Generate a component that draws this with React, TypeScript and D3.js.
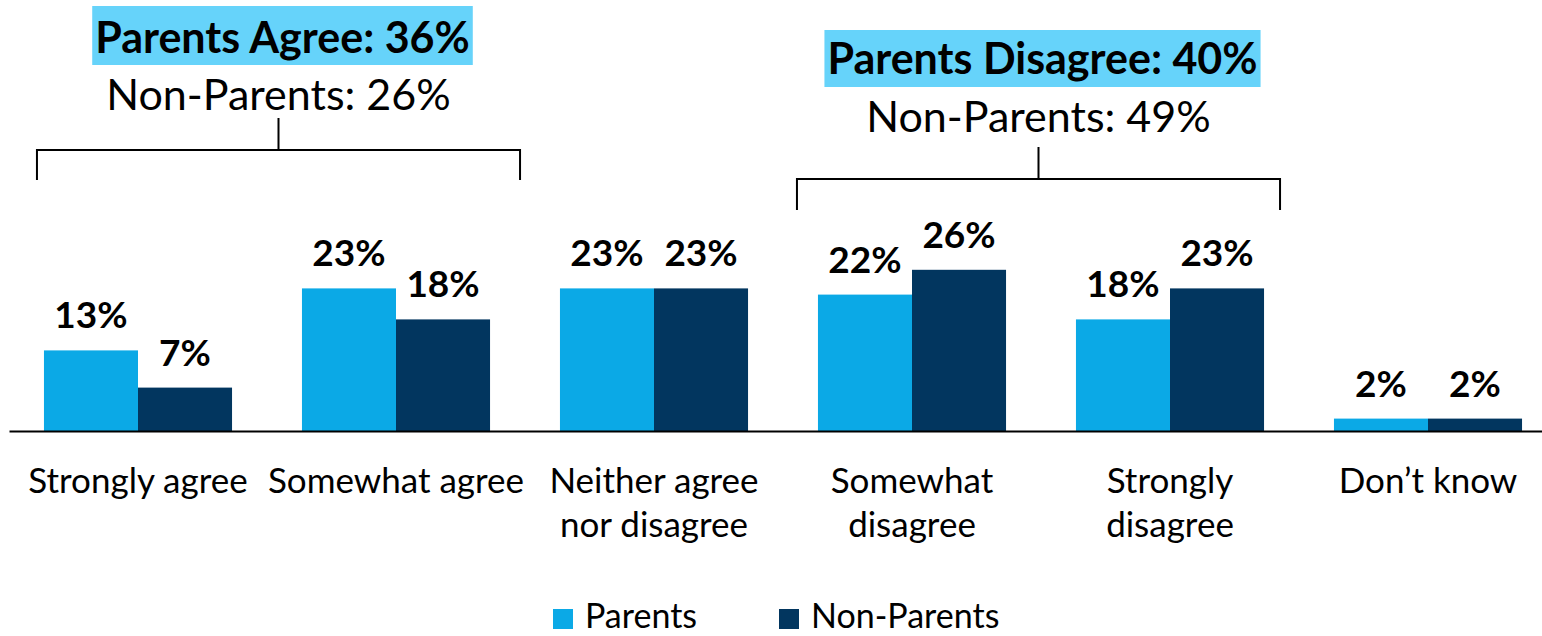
import { useRef, useEffect } from 'react'
import * as d3 from 'd3'

const categories = ['Strongly agree', 'Somewhat agree', 'Neither agree nor disagree', 'Somewhat disagree', 'Strongly disagree', 'Don’t know']
const categoryLines = [['Strongly agree'], ['Somewhat agree'], ['Neither agree', 'nor disagree'], ['Somewhat', 'disagree'], ['Strongly', 'disagree'], ['Don’t know']]
const seriesNames = ['Parents', 'Non-Parents']
const parents = [13, 23, 23, 22, 18, 2]
const nonParents = [7, 18, 23, 26, 23, 2]

const groupTitles = ['Parents Agree: 36%', 'Parents Disagree: 40%']
const groupSubtitles = ['Non-Parents: 26%', 'Non-Parents: 49%']
const groupSpans = [[0, 1], [3, 4]]

const W = 1542
const H = 636
const FONT = 'Lato, "Open Sans", sans-serif'
const colors = ['#0ba9e6', '#02365f']

export default function App() {
  const svgRef = useRef<SVGSVGElement>(null)

  useEffect(() => {
    if (!svgRef.current) return
    const svg = d3.select(svgRef.current)
    svg.selectAll('*').remove()

    const baseline = 431
    const x0 = d3.scaleBand<string>().domain(categories).range([9, 1557]).paddingInner(0.271).paddingOuter(0.1355)
    const x1 = d3.scaleBand<string>().domain(seriesNames).range([0, x0.bandwidth()])
    const y = d3.scaleLinear().domain([0, 40]).range([baseline, baseline - 248])

    const rows = categories.map((c, i) => ({ cat: c, vals: [parents[i], nonParents[i]] }))

    const groups = svg.selectAll('g.grp').data(rows).join('g')
      .attr('class', 'grp')
      .attr('transform', (d) => `translate(${x0(d.cat)},0)`)

    groups.selectAll('rect')
      .data((d) => d.vals.map((v, i) => ({ v, s: seriesNames[i], i })))
      .join('rect')
      .attr('x', (d) => x1(d.s) ?? 0)
      .attr('y', (d) => y(d.v))
      .attr('width', x1.bandwidth())
      .attr('height', (d) => baseline - y(d.v))
      .attr('fill', (d) => colors[d.i])

    groups.selectAll('text.val')
      .data((d) => d.vals.map((v, i) => ({ v, s: seriesNames[i] })))
      .join('text')
      .attr('class', 'val')
      .attr('x', (d) => (x1(d.s) ?? 0) + x1.bandwidth() / 2)
      .attr('y', (d) => y(d.v) - 22)
      .attr('text-anchor', 'middle')
      .attr('font-family', FONT)
      .attr('font-weight', 700)
      .attr('font-size', 37)
      .attr('fill', '#000')
      .text((d) => `${d.v}%`)

    // axis line
    const axis = svg.append('g')
      .attr('transform', `translate(0,${baseline})`)
      .call(d3.axisBottom(x0).tickSize(0).tickFormat(() => ''))
    axis.select('.domain').attr('stroke', '#000').attr('stroke-width', 2)

    // category labels
    categories.forEach((c, i) => {
      const cx = (x0(c) ?? 0) + x0.bandwidth() / 2
      const t = svg.append('text')
        .attr('text-anchor', 'middle')
        .attr('font-family', FONT)
        .attr('font-size', 35)
        .attr('fill', '#000')
      categoryLines[i].forEach((line, j) => {
        t.append('tspan').attr('x', cx).attr('y', 493 + j * 44).text(line)
      })
    })

    // brackets with group summaries
    const bracketOffsets = [
      { left: -7, right: 30, y: 150, drop: 30, tick: 32, titleY: 53, boxTop: 6, boxH: 59, subY: 110 },
      { left: -21, right: 16, y: 179, drop: 31, tick: 32, titleY: 74, boxTop: 30, boxH: 57, subY: 132 },
    ]
    groupSpans.forEach(([a, b], k) => {
      const o = bracketOffsets[k]
      const xl = (x0(categories[a]) ?? 0) + o.left
      const xr = (x0(categories[b]) ?? 0) + x0.bandwidth() + o.right
      const cx = (xl + xr) / 2
      svg.append('path')
        .attr('d', `M${xl},${o.y + o.drop}V${o.y}H${xr}V${o.y + o.drop}M${cx},${o.y}V${o.y - o.tick}`)
        .attr('fill', 'none')
        .attr('stroke', '#000')
        .attr('stroke-width', 2)

      const title = svg.append('text')
        .attr('x', cx + 4)
        .attr('y', o.titleY)
        .attr('text-anchor', 'middle')
        .attr('font-family', FONT)
        .attr('font-weight', 700)
        .attr('font-size', 43)
        .attr('fill', '#000')
        .text(groupTitles[k])
      const node = title.node() as SVGTextElement
      const bb = node.getBBox()
      svg.insert('rect', () => node)
        .attr('x', bb.x - 3)
        .attr('y', o.boxTop)
        .attr('width', bb.width + 6)
        .attr('height', o.boxH)
        .attr('fill', '#66d3fa')

      svg.append('text')
        .attr('x', cx)
        .attr('y', o.subY)
        .attr('text-anchor', 'middle')
        .attr('font-family', FONT)
        .attr('font-size', 43)
        .attr('fill', '#000')
        .text(groupSubtitles[k])
    })

    // legend
    const legendX = [553, 779]
    seriesNames.forEach((s, i) => {
      svg.append('rect')
        .attr('x', legendX[i]).attr('y', 609)
        .attr('width', 20).attr('height', 20)
        .attr('fill', colors[i])
      svg.append('text')
        .attr('x', legendX[i] + 32).attr('y', 628)
        .attr('font-family', FONT)
        .attr('font-size', 34)
        .attr('fill', '#000')
        .text(s)
    })
  }, [])

  return <svg ref={svgRef} width={W} height={H} style={{ position: 'absolute', left: 0, top: 0, background: '#fff' }} />
}
